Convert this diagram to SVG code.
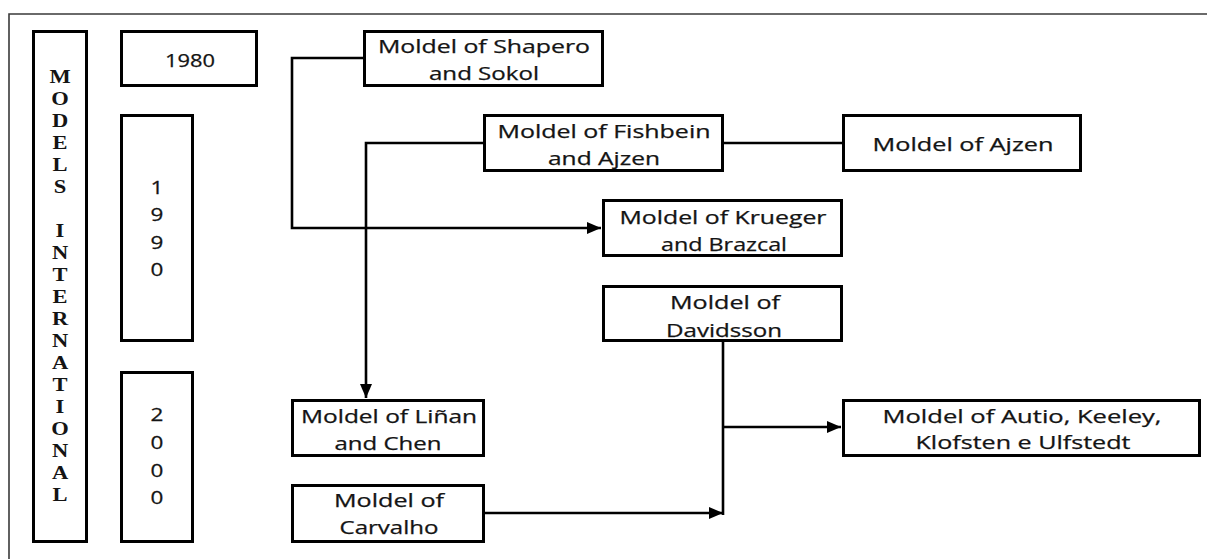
<svg xmlns="http://www.w3.org/2000/svg" width="1207" height="559" viewBox="0 0 1207 559">
<style>
.box{fill:#fff;stroke:#000;stroke-width:3}
.t{font-family:"Open Sans","Liberation Sans",sans-serif;font-size:18px;fill:#141414;text-anchor:middle;stroke:#141414;stroke-width:0.25}
.v{font-family:"Liberation Serif",serif;font-size:18px;font-weight:bold;fill:#141414;text-anchor:middle}
.c{fill:none;stroke:#000;stroke-width:2.6}
</style>
<defs>
<marker id="ah" markerUnits="userSpaceOnUse" markerWidth="14" markerHeight="12" viewBox="0 0 14 12" refX="14" refY="6" orient="auto">
<path d="M0,0 L14,6 L0,12 Z" fill="#000"/>
</marker>
</defs>
<rect width="1207" height="559" fill="#fff"/>
<path d="M9,559 V14 H1207" fill="none" stroke="#3a3a3a" stroke-width="1.6"/>
<g id="connectors">
<path class="c" d="M363,58 H292 V228 H601" marker-end="url(#ah)"/>
<path class="c" d="M483,143 H366 V398" marker-end="url(#ah)"/>
<path class="c" d="M724,143 H842"/>
<path class="c" d="M723,342 V515"/>
<path class="c" d="M723,427 H841" marker-end="url(#ah)"/>
<path class="c" d="M485,513 H723" marker-end="url(#ah)"/>
</g>
<g id="models">
<rect class="box" x="33.5" y="31.5" width="53" height="510"/>
<g transform="translate(60,0) scale(1.25,1)">
<text class="v" x="0" y="83">M</text>
<text class="v" x="0" y="105">O</text>
<text class="v" x="0" y="127">D</text>
<text class="v" x="0" y="149">E</text>
<text class="v" x="0" y="171">L</text>
<text class="v" x="0" y="193">S</text>
<text class="v" x="0" y="237">I</text>
<text class="v" x="0" y="259">N</text>
<text class="v" x="0" y="281">T</text>
<text class="v" x="0" y="303">E</text>
<text class="v" x="0" y="325">R</text>
<text class="v" x="0" y="347">N</text>
<text class="v" x="0" y="369">A</text>
<text class="v" x="0" y="391">T</text>
<text class="v" x="0" y="413">I</text>
<text class="v" x="0" y="435">O</text>
<text class="v" x="0" y="457">N</text>
<text class="v" x="0" y="479">A</text>
<text class="v" x="0" y="501">L</text>
</g>
</g>
<g id="y1980">
<rect class="box" x="121.5" y="31.5" width="135" height="54"/>
<text class="t" x="190" y="67" textLength="50" lengthAdjust="spacingAndGlyphs">1980</text>
</g>
<g id="y1990">
<rect class="box" x="121.5" y="115.5" width="71" height="225"/>
<g transform="translate(157,0) scale(1.25,1)">
<text class="t" x="0" y="194">1</text>
<text class="t" x="0" y="221">9</text>
<text class="t" x="0" y="249">9</text>
<text class="t" x="0" y="276">0</text>
</g>
</g>
<g id="y2000">
<rect class="box" x="121.5" y="372.5" width="71" height="169"/>
<g transform="translate(157,0) scale(1.25,1)">
<text class="t" x="0" y="421">2</text>
<text class="t" x="0" y="449">0</text>
<text class="t" x="0" y="477">0</text>
<text class="t" x="0" y="504">0</text>
</g>
</g>
<g id="shapero">
<rect class="box" x="364.5" y="31.5" width="238" height="54"/>
<text class="t" x="484" y="53" textLength="212" lengthAdjust="spacingAndGlyphs">Moldel of Shapero</text>
<text class="t" x="484" y="80" textLength="110" lengthAdjust="spacingAndGlyphs">and Sokol</text>
</g>
<g id="fishbein">
<rect class="box" x="484.5" y="115.5" width="238" height="55"/>
<text class="t" x="604" y="138" textLength="213" lengthAdjust="spacingAndGlyphs">Moldel of Fishbein</text>
<text class="t" x="604" y="165" textLength="112" lengthAdjust="spacingAndGlyphs">and Ajzen</text>
</g>
<g id="ajzen">
<rect class="box" x="843.5" y="115.5" width="237" height="55"/>
<text class="t" x="963" y="151" textLength="181" lengthAdjust="spacingAndGlyphs">Moldel of Ajzen</text>
</g>
<g id="krueger">
<rect class="box" x="603.5" y="200.5" width="238" height="55"/>
<text class="t" x="723" y="224" textLength="207" lengthAdjust="spacingAndGlyphs">Moldel of Krueger</text>
<text class="t" x="724" y="251" textLength="126" lengthAdjust="spacingAndGlyphs">and Brazcal</text>
</g>
<g id="davidsson">
<rect class="box" x="603.5" y="286.5" width="238" height="54"/>
<text class="t" x="725" y="309" textLength="110" lengthAdjust="spacingAndGlyphs">Moldel of</text>
<text class="t" x="724" y="337" textLength="116" lengthAdjust="spacingAndGlyphs">Davidsson</text>
</g>
<g id="autio">
<rect class="box" x="843.5" y="400.5" width="356" height="55"/>
<text class="t" x="1022" y="423" textLength="279" lengthAdjust="spacingAndGlyphs">Moldel of Autio, Keeley,</text>
<text class="t" x="1023" y="449" textLength="215" lengthAdjust="spacingAndGlyphs">Klofsten e Ulfstedt</text>
</g>
<g id="linan">
<rect class="box" x="292.5" y="400.5" width="191" height="55"/>
<text class="t" x="389" y="423" textLength="176" lengthAdjust="spacingAndGlyphs">Moldel of Liñan</text>
<text class="t" x="388" y="450" textLength="107" lengthAdjust="spacingAndGlyphs">and Chen</text>
</g>
<g id="carvalho">
<rect class="box" x="292.5" y="485.5" width="191" height="56"/>
<text class="t" x="389" y="507" textLength="110" lengthAdjust="spacingAndGlyphs">Moldel of</text>
<text class="t" x="389" y="534" textLength="99" lengthAdjust="spacingAndGlyphs">Carvalho</text>
</g>
</svg>
